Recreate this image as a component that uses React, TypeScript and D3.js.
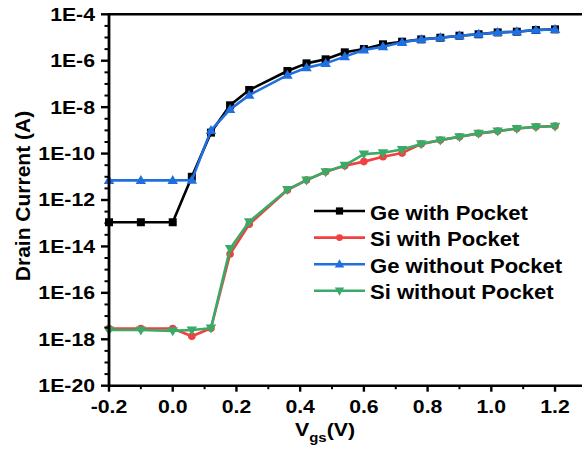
import React from "react";
import * as d3 from "d3";

const vgs = [-0.2, -0.1, 0.0, 0.06, 0.12, 0.18, 0.24, 0.36, 0.42, 0.48, 0.54, 0.6, 0.66, 0.72, 0.78, 0.84, 0.9, 0.96, 1.02, 1.08, 1.14, 1.2];

const geWithPocket = [1.1e-13, 1.1e-13, 1.1e-13, 1e-11, 8e-10, 1.2e-8, 5.5e-8, 3.6e-7, 7.7e-7, 1.15e-6, 2.3e-6, 3.2e-6, 5.1e-6, 6.6e-6, 8.3e-6, 9.8e-6, 1.2e-5, 1.38e-5, 1.66e-5, 1.78e-5, 2.1e-5, 2.24e-5];
const siWithPocket = [2.9e-18, 2.9e-18, 2.9e-18, 1.35e-18, 3e-18, 4.7e-15, 9e-14, 2.7e-12, 7.2e-12, 1.65e-11, 3e-11, 4.5e-11, 7.3e-11, 1.05e-10, 2.6e-10, 3.8e-10, 5.3e-10, 7.4e-10, 9.3e-10, 1.2e-9, 1.44e-9, 1.55e-9];
const geWithoutPocket = [7e-12, 7e-12, 7e-12, 7.2e-12, 1e-9, 8e-9, 3.3e-8, 2.4e-7, 5e-7, 7.7e-7, 1.5e-6, 2.9e-6, 4e-6, 6.2e-6, 8.3e-6, 9.8e-6, 1.2e-5, 1.38e-5, 1.66e-5, 1.78e-5, 2.1e-5, 2.24e-5];
const siWithoutPocket = [2.5e-18, 2.5e-18, 2.3e-18, 2.5e-18, 3e-18, 8e-15, 1.15e-13, 2.8e-12, 7.2e-12, 1.65e-11, 3.1e-11, 9.5e-11, 1.08e-10, 1.5e-10, 2.6e-10, 3.8e-10, 5.3e-10, 7.4e-10, 9.3e-10, 1.2e-9, 1.4e-9, 1.5e-9];

const seriesNames = ["Ge with Pocket", "Si with Pocket", "Ge without Pocket", "Si without Pocket"];
const seriesColors = ["#000000", "#F2403F", "#1F6FE0", "#3AAA68"];
const seriesMarkers = ["square", "circle", "triangleUp", "triangleDown"];
const seriesValues = [geWithPocket, siWithPocket, geWithoutPocket, siWithoutPocket];

const xMajorTicks = [-0.2, 0.0, 0.2, 0.4, 0.6, 0.8, 1.0, 1.2];
const xMinorTicks = [-0.1, 0.1, 0.3, 0.5, 0.7, 0.9, 1.1];
const yMajorExponents = [-20, -18, -16, -14, -12, -10, -8, -6, -4];

const FONT = "'Liberation Sans', Arial, sans-serif";

function Marker({ type, x, y, color, s = 1 }: { type: string; x: number; y: number; color: string; s?: number }) {
  if (type === "square") {
    const a = 8 * s;
    return <rect x={x - a / 2} y={y - a / 2} width={a} height={a} fill={color} />;
  }
  if (type === "circle") {
    return <circle cx={x} cy={y} r={3.8 * s} fill={color} />;
  }
  const h = 9 * s;
  const w = 10.5 * s;
  if (type === "triangleUp") {
    return <path d={`M${x},${y - h * 0.6}L${x + w / 2},${y + h * 0.4}L${x - w / 2},${y + h * 0.4}Z`} fill={color} />;
  }
  return <path d={`M${x},${y + h * 0.6}L${x + w / 2},${y - h * 0.4}L${x - w / 2},${y - h * 0.4}Z`} fill={color} />;
}

export default function App() {
  const x = d3.scaleLinear().domain([-0.2, 1.3]).range([109, 586.9]);
  const y = d3.scaleLog().domain([1e-20, 1e-4]).range([385.7, 14.3]);
  const line = d3
    .line<number>()
    .x((_, i) => x(vgs[i]))
    .y((d) => y(d));

  const left = x(-0.2);
  const bottom = y(1e-20);
  const top = y(1e-4);
  const right = x(1.3);

  const yMinor: number[] = [];
  for (let e = -20; e < -4; e += 0.5) {
    if (Math.abs(e % 2) > 1e-9) yMinor.push(e);
  }

  return (
    <svg width={582} height={452} style={{ position: "absolute", left: 0, top: 0, background: "#fff" }}>
      <rect x={0} y={0} width={582} height={452} fill="#fff" />
      {/* series */}
      {seriesValues.map((vals, si) => (
        <g key={si}>
          <path d={line(vals) || ""} fill="none" stroke={seriesColors[si]} strokeWidth={2.6} strokeLinejoin="round" />
          {vals.map((v, i) => (
            <Marker key={i} type={seriesMarkers[si]} x={x(vgs[i])} y={y(v)} color={seriesColors[si]} />
          ))}
        </g>
      ))}

      {/* axes frame */}
      <line x1={left} x2={right} y1={top} y2={top} stroke="#000" strokeWidth={2.6} />
      <line x1={left} x2={right} y1={bottom} y2={bottom} stroke="#000" strokeWidth={2.6} />
      <line x1={left} x2={left} y1={top - 1.3} y2={bottom + 1.3} stroke="#000" strokeWidth={2.8} />
      <line x1={right} x2={right} y1={top} y2={bottom} stroke="#000" strokeWidth={2.6} />

      {/* y ticks */}
      {yMajorExponents.map((e) => (
        <g key={e}>
          <line x1={left - 8} x2={left} y1={y(Math.pow(10, e))} y2={y(Math.pow(10, e))} stroke="#000" strokeWidth={2.4} />
          <text
            transform={`translate(${left - 14},${y(Math.pow(10, e)) + 6.4}) scale(1.18,1)`}
            textAnchor="end"
            fontFamily={FONT}
            fontWeight="bold"
            fontSize={18}
            fill="#000"
          >
            {`1E${e}`}
          </text>
        </g>
      ))}
      {yMinor.map((e) => (
        <line key={e} x1={left - 4.5} x2={left} y1={y(Math.pow(10, e))} y2={y(Math.pow(10, e))} stroke="#000" strokeWidth={2} />
      ))}

      {/* x ticks */}
      {xMajorTicks.map((t) => (
        <g key={t}>
          <line x1={x(t)} x2={x(t)} y1={bottom} y2={bottom + 6} stroke="#000" strokeWidth={2.4} />
          <text
            transform={`translate(${x(t)},${bottom + 27.5}) scale(1.18,1)`}
            textAnchor="middle"
            fontFamily={FONT}
            fontWeight="bold"
            fontSize={18}
            fill="#000"
          >
            {t.toFixed(1)}
          </text>
        </g>
      ))}
      {xMinorTicks.map((t) => (
        <line key={t} x1={x(t)} x2={x(t)} y1={bottom} y2={bottom + 3.5} stroke="#000" strokeWidth={2} />
      ))}

      {/* axis titles */}
      <text
        transform={`translate(30,196) rotate(-90)`}
        textAnchor="middle"
        fontFamily={FONT}
        fontWeight="bold"
        fontSize={21}
        fill="#000"
      >
        Drain Current (A)
      </text>
      <text transform={`translate(295,436) scale(1.15,1)`} fontFamily={FONT} fontWeight="bold" fontSize={18.5} fill="#000">
        V
        <tspan fontSize={13} dy={5.5}>gs</tspan>
        <tspan dy={-5.5}>(V)</tspan>
      </text>

      {/* legend */}
      {seriesNames.map((name, i) => {
        const ly = 211 + i * 26.6;
        return (
          <g key={name}>
            <line x1={314} x2={365} y1={ly} y2={ly} stroke={seriesColors[i]} strokeWidth={2.6} />
            <Marker type={seriesMarkers[i]} x={339.5} y={ly} color={seriesColors[i]} s={0.9} />
            <text
              transform={`translate(370,${ly + 8.5}) scale(1.05,1)`}
              fontFamily={FONT}
              fontWeight="bold"
              fontSize={21}
              fill="#000"
            >
              {name}
            </text>
          </g>
        );
      })}
    </svg>
  );
}
